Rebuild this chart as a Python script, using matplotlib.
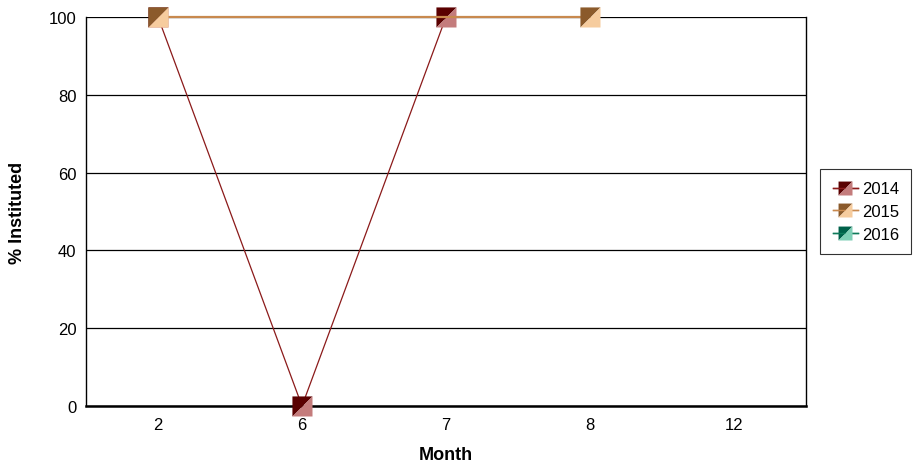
import matplotlib
matplotlib.use("Agg")
import matplotlib.pyplot as plt
from matplotlib.path import Path
from matplotlib.lines import Line2D
import numpy as np

plt.rcParams['font.family'] = ['Liberation Sans', 'DejaVu Sans']

months = ["2", "6", "7", "8", "12"]
series_names = ["2014", "2015", "2016"]
vals_2014 = [100, 0, 100, None, None]
vals_2015 = [100, None, None, 100, None]
vals_2016 = [None, None, None, None, None]
yticks = [0, 20, 40, 60, 80, 100]

line_colors = ["#8b1a1a", "#c8894e", "#0f7a5a"]
dark_colors = ["#5a0000", "#8b5a2b", "#00614a"]
light_colors = ["#c47c7c", "#f6cc9e", "#7fcfb6"]
line_widths = [0.9, 1.6, 1.2]

tri_ul = Path([(-1, 1), (1, 1), (-1, -1), (-1, 1)], [Path.MOVETO, Path.LINETO, Path.LINETO, Path.CLOSEPOLY])
tri_lr = Path([(1, 1), (1, -1), (-1, -1), (1, 1)], [Path.MOVETO, Path.LINETO, Path.LINETO, Path.CLOSEPOLY])

fig = plt.figure(figsize=(9.21, 4.64), dpi=100)
ax = fig.add_axes([86/921, 1 - 407/464, 720/921, (407-18)/464])

x = np.arange(len(months))
for i, vals in enumerate([vals_2014, vals_2015, vals_2016]):
    xs = [xi for xi, v in zip(x, vals) if v is not None]
    ys = [v for v in vals if v is not None]
    if not xs:
        continue
    ax.plot(xs, ys, color=line_colors[i], lw=line_widths[i], zorder=3 + 2*i, clip_on=False)
    ax.plot(xs, ys, ls='none', marker=tri_ul, ms=14.5, mfc=dark_colors[i], mec='none', zorder=4 + 2*i, clip_on=False)
    ax.plot(xs, ys, ls='none', marker=tri_lr, ms=14.5, mfc=light_colors[i], mec='none', zorder=4 + 2*i, clip_on=False)

ax.set_xlim(-0.5, len(months) - 0.5)
ax.set_ylim(0, 100)
ax.set_xticks(x)
ax.set_xticklabels(months)
ax.set_yticks(yticks)
ax.tick_params(length=0, labelsize=12)
ax.tick_params(axis='x', pad=8)
ax.tick_params(axis='y', pad=7)
for yv in yticks:
    ax.axhline(yv, color='black', lw=0.9, zorder=1)
ax.spines['top'].set_visible(False)
ax.spines['left'].set_linewidth(1.0)
ax.spines['right'].set_linewidth(1.0)
ax.spines['bottom'].set_linewidth(1.8)
ax.set_xlabel("Month", fontsize=13, fontweight='bold', labelpad=10)
ax.set_ylabel("% Instituted", fontsize=13, fontweight='bold', labelpad=16)

handles = []
for i in range(3):
    h1 = Line2D([], [], color=line_colors[i], lw=1.0, marker=tri_ul, ms=10, mfc=dark_colors[i], mec='none')
    h2 = Line2D([], [], color=line_colors[i], lw=1.0, marker=tri_lr, ms=10, mfc=light_colors[i], mec='none')
    handles.append((h1, h2))
leg = fig.legend(handles, series_names, loc='upper left', bbox_to_anchor=(820/921, 1 - 170/464),
                 fontsize=12, frameon=True, fancybox=False, edgecolor='black', handlelength=1.5,
                 handletextpad=0.25, borderpad=0.75, labelspacing=0.45, borderaxespad=0)
leg.get_frame().set_linewidth(0.8)

fig.savefig("out.png", dpi=100)
